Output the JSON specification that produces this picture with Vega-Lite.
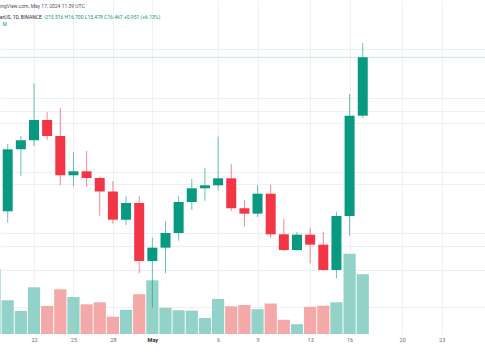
{
  "$schema": "https://vega.github.io/schema/vega-lite/v6.json",
  "width": 485,
  "height": 334,
  "padding": 0,
  "autosize": {"type": "pad"},
  "background": "white",
  "config": {"view": {"stroke": null}, "font": "Roboto"},
  "title": {
    "text": "ingView.com, May 17, 2024 11:39 UTC",
    "subtitle": "erUS, 1D, BINANCE",
    "anchor": "start",
    "frame": "group",
    "offset": -19.5,
    "font": "Roboto",
    "fontSize": 5,
    "fontWeight": "normal",
    "color": "#50535e",
    "subtitleFont": "Roboto",
    "subtitleFontSize": 5,
    "subtitleColor": "#2a2e39",
    "subtitlePadding": 6
  },
  "data": {
    "values": [
      {"date": "2024-04-19", "open": 13.60, "high": 14.10, "low": 13.45, "close": 13.959, "volume": 6.50},
      {"date": "2024-04-20", "open": 13.959, "high": 15.055, "low": 13.773, "close": 14.968, "volume": 3.38},
      {"date": "2024-04-21", "open": 14.968, "high": 15.185, "low": 14.538, "close": 15.115, "volume": 2.30},
      {"date": "2024-04-22", "open": 15.115, "high": 16.043, "low": 15.022, "close": 15.446, "volume": 4.67},
      {"date": "2024-04-23", "open": 15.446, "high": 15.576, "low": 15.120, "close": 15.185, "volume": 2.80},
      {"date": "2024-04-24", "open": 15.185, "high": 15.641, "low": 14.382, "close": 14.545, "volume": 4.48},
      {"date": "2024-04-25", "open": 14.545, "high": 14.920, "low": 14.371, "close": 14.610, "volume": 3.70},
      {"date": "2024-04-26", "open": 14.610, "high": 14.941, "low": 14.359, "close": 14.501, "volume": 2.97},
      {"date": "2024-04-27", "open": 14.501, "high": 14.522, "low": 13.887, "close": 14.281, "volume": 3.17},
      {"date": "2024-04-28", "open": 14.281, "high": 14.452, "low": 13.757, "close": 13.822, "volume": 1.73},
      {"date": "2024-04-29", "open": 13.822, "high": 14.208, "low": 13.736, "close": 14.094, "volume": 2.42},
      {"date": "2024-04-30", "open": 14.094, "high": 14.208, "low": 12.949, "close": 13.149, "volume": 3.98},
      {"date": "2024-05-01", "open": 13.149, "high": 13.529, "low": 12.392, "close": 13.366, "volume": 5.37},
      {"date": "2024-05-02", "open": 13.366, "high": 13.796, "low": 12.949, "close": 13.605, "volume": 2.62},
      {"date": "2024-05-03", "open": 13.605, "high": 14.208, "low": 13.480, "close": 14.110, "volume": 2.37},
      {"date": "2024-05-04", "open": 14.110, "high": 14.485, "low": 13.980, "close": 14.333, "volume": 2.33},
      {"date": "2024-05-05", "open": 14.333, "high": 14.669, "low": 14.131, "close": 14.382, "volume": 1.60},
      {"date": "2024-05-06", "open": 14.382, "high": 15.174, "low": 14.294, "close": 14.496, "volume": 3.50},
      {"date": "2024-05-07", "open": 14.496, "high": 14.729, "low": 13.960, "close": 14.008, "volume": 2.77},
      {"date": "2024-05-08", "open": 14.008, "high": 14.143, "low": 13.711, "close": 13.920, "volume": 2.90},
      {"date": "2024-05-09", "open": 13.920, "high": 14.387, "low": 13.866, "close": 14.245, "volume": 2.48},
      {"date": "2024-05-10", "open": 14.245, "high": 14.392, "low": 13.519, "close": 13.584, "volume": 3.05},
      {"date": "2024-05-11", "open": 13.584, "high": 13.833, "low": 13.312, "close": 13.328, "volume": 1.42},
      {"date": "2024-05-12", "open": 13.328, "high": 13.622, "low": 13.317, "close": 13.578, "volume": 0.98},
      {"date": "2024-05-13", "open": 13.578, "high": 13.692, "low": 13.112, "close": 13.415, "volume": 2.72},
      {"date": "2024-05-14", "open": 13.415, "high": 13.622, "low": 12.991, "close": 13.003, "volume": 2.83},
      {"date": "2024-05-15", "open": 13.003, "high": 13.952, "low": 12.867, "close": 13.882, "volume": 3.17},
      {"date": "2024-05-16", "open": 13.882, "high": 15.869, "low": 13.561, "close": 15.516, "volume": 8.02},
      {"date": "2024-05-17", "open": 15.516, "high": 16.700, "low": 15.478, "close": 16.467, "volume": 5.98}
    ]
  },
  "layer": [
    {
      "mark": {"type": "bar", "width": 12.2, "clip": true},
      "encoding": {
        "x": {
          "field": "date", "type": "temporal",
          "scale": {"type": "utc", "nice": false, "padding": 0, "domain": [1713520620000, 1716707280000]},
          "axis": {
            "values": [{"year": 2024, "month": 4, "date": 22, "utc": true}, {"year": 2024, "month": 4, "date": 25, "utc": true}, {"year": 2024, "month": 4, "date": 28, "utc": true}, {"year": 2024, "month": 5, "date": 1, "utc": true}, {"year": 2024, "month": 5, "date": 6, "utc": true}, {"year": 2024, "month": 5, "date": 9, "utc": true}, {"year": 2024, "month": 5, "date": 13, "utc": true}, {"year": 2024, "month": 5, "date": 16, "utc": true}, {"year": 2024, "month": 5, "date": 20, "utc": true}, {"year": 2024, "month": 5, "date": 23, "utc": true}],
            "labelExpr": "utcdate(datum.value) == 1 ? 'May' : '' + utcdate(datum.value)",
            "labelFont": "Roboto", "labelFontSize": 5.5, "labelPadding": 3.5,
            "labelColor": {"condition": {"test": "utcdate(datum.value) == 1", "value": "#2a2e39"}, "value": "#6a6d78"},
            "labelFontWeight": {"condition": {"test": "utcdate(datum.value) == 1", "value": "bold"}, "value": "normal"},
            "labelOverlap": false, "labelFlush": false,
            "domain": false, "ticks": false, "grid": true, "gridColor": "#eef0f4", "gridWidth": 1,
            "title": "M", "titleX": 2, "titleY": -308.5, "titleAlign": "left", "titleBaseline": "alphabetic",
            "titleFont": "Roboto", "titleFontSize": 5, "titleFontWeight": "normal", "titleColor": "#089981"
          }
        },
        "y": {"field": "volume", "type": "quantitative", "scale": {"domain": [0, 33.4], "zero": true, "nice": false}, "axis": null},
        "color": {"condition": {"test": "datum.close >= datum.open", "value": "#92d2c8"}, "value": "#f5a8a8"}
      }
    },
    {
      "data": {"values": [{"last": 16.467}]},
      "mark": {"type": "rule", "color": "#c6e6e1", "strokeWidth": 1, "clip": true},
      "encoding": {
        "y": {"field": "last", "type": "quantitative", "scale": {"domain": [11.96, 17.40], "zero": false, "nice": false}, "axis": null}
      }
    },
    {
      "mark": {"type": "rule", "strokeWidth": 1, "opacity": 0.6, "clip": true},
      "encoding": {
        "x": {
          "field": "date", "type": "temporal",
          "scale": {"type": "utc", "nice": false, "padding": 0, "domain": [1713520620000, 1716707280000]},
          "axis": {
            "values": [{"year": 2024, "month": 4, "date": 22, "utc": true}, {"year": 2024, "month": 4, "date": 25, "utc": true}, {"year": 2024, "month": 4, "date": 28, "utc": true}, {"year": 2024, "month": 5, "date": 1, "utc": true}, {"year": 2024, "month": 5, "date": 6, "utc": true}, {"year": 2024, "month": 5, "date": 9, "utc": true}, {"year": 2024, "month": 5, "date": 13, "utc": true}, {"year": 2024, "month": 5, "date": 16, "utc": true}, {"year": 2024, "month": 5, "date": 20, "utc": true}, {"year": 2024, "month": 5, "date": 23, "utc": true}],
            "labelExpr": "utcdate(datum.value) == 1 ? 'May' : '' + utcdate(datum.value)",
            "labelFont": "Roboto", "labelFontSize": 5.5, "labelPadding": 3.5,
            "labelColor": {"condition": {"test": "utcdate(datum.value) == 1", "value": "#2a2e39"}, "value": "#6a6d78"},
            "labelFontWeight": {"condition": {"test": "utcdate(datum.value) == 1", "value": "bold"}, "value": "normal"},
            "labelOverlap": false, "labelFlush": false,
            "domain": false, "ticks": false, "grid": true, "gridColor": "#eef0f4", "gridWidth": 1,
            "title": "M", "titleX": 2, "titleY": -308.5, "titleAlign": "left", "titleBaseline": "alphabetic",
            "titleFont": "Roboto", "titleFontSize": 5, "titleFontWeight": "normal", "titleColor": "#089981"
          }
        },
        "y": {
          "field": "low", "type": "quantitative",
          "scale": {"domain": [11.96, 17.40], "zero": false, "nice": false},
          "axis": {
            "orient": "left",
            "values": [12.4, 13.0, 13.4, 13.6, 14.4, 14.6, 15.4, 15.6, 15.8, 16.6],
            "labels": false, "ticks": false, "domain": false, "minExtent": 0,
            "grid": true, "gridColor": "#eef0f4", "gridWidth": 1,
            "title": "O15.516 H16.700 L15.478 C16.467 +0.951 (+6.13%)",
            "titleX": 44, "titleY": 18.3, "titleAngle": 0, "titleAlign": "left", "titleBaseline": "alphabetic",
            "titleFont": "Roboto", "titleFontSize": 5, "titleFontWeight": "normal", "titleColor": "#089981"
          }
        },
        "y2": {"field": "high"},
        "color": {"condition": {"test": "datum.close >= datum.open", "value": "#089981"}, "value": "#f23645"}
      }
    },
    {
      "mark": {"type": "bar", "width": 10, "clip": true},
      "encoding": {
        "x": {
          "field": "date", "type": "temporal",
          "scale": {"type": "utc", "nice": false, "padding": 0, "domain": [1713520620000, 1716707280000]},
          "axis": {
            "values": [{"year": 2024, "month": 4, "date": 22, "utc": true}, {"year": 2024, "month": 4, "date": 25, "utc": true}, {"year": 2024, "month": 4, "date": 28, "utc": true}, {"year": 2024, "month": 5, "date": 1, "utc": true}, {"year": 2024, "month": 5, "date": 6, "utc": true}, {"year": 2024, "month": 5, "date": 9, "utc": true}, {"year": 2024, "month": 5, "date": 13, "utc": true}, {"year": 2024, "month": 5, "date": 16, "utc": true}, {"year": 2024, "month": 5, "date": 20, "utc": true}, {"year": 2024, "month": 5, "date": 23, "utc": true}],
            "labelExpr": "utcdate(datum.value) == 1 ? 'May' : '' + utcdate(datum.value)",
            "labelFont": "Roboto", "labelFontSize": 5.5, "labelPadding": 3.5,
            "labelColor": {"condition": {"test": "utcdate(datum.value) == 1", "value": "#2a2e39"}, "value": "#6a6d78"},
            "labelFontWeight": {"condition": {"test": "utcdate(datum.value) == 1", "value": "bold"}, "value": "normal"},
            "labelOverlap": false, "labelFlush": false,
            "domain": false, "ticks": false, "grid": true, "gridColor": "#eef0f4", "gridWidth": 1,
            "title": "M", "titleX": 2, "titleY": -308.5, "titleAlign": "left", "titleBaseline": "alphabetic",
            "titleFont": "Roboto", "titleFontSize": 5, "titleFontWeight": "normal", "titleColor": "#089981"
          }
        },
        "y": {"field": "open", "type": "quantitative", "scale": {"domain": [11.96, 17.40], "zero": false, "nice": false}, "axis": null},
        "y2": {"field": "close"},
        "color": {"condition": {"test": "datum.close >= datum.open", "value": "#089981"}, "value": "#f23645"}
      }
    }
  ],
  "resolve": {"scale": {"y": "independent"}}
}
